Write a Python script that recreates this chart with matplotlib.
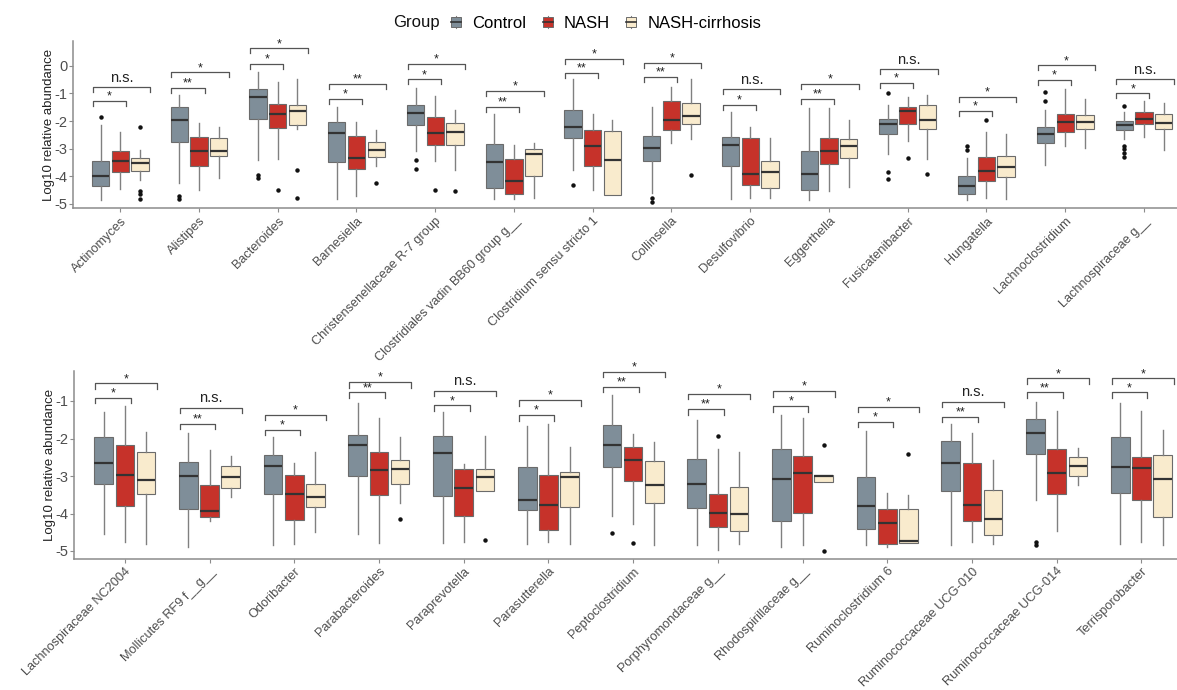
import matplotlib
matplotlib.use("Agg")
import matplotlib.pyplot as plt
from matplotlib.legend_handler import HandlerBase
from matplotlib.patches import Rectangle, Patch
from matplotlib.lines import Line2D

plt.rcParams['font.family'] = ['Liberation Sans', 'DejaVu Sans']

groups = ["Control", "NASH", "NASH-cirrhosis"]
colors = ["#7f8e99", "#c6322a", "#f9ebcd"]

# ---- top panel ----
top_taxa = ["Actinomyces", "Alistipes", "Bacteroides", "Barnesiella",
            "Christensenellaceae R-7 group", "Clostridiales vadin BB60 group g__",
            "Clostridium sensu stricto 1", "Collinsella", "Desulfovibrio",
            "Eggerthella", "Fusicatenibacter", "Hungatella", "Lachnoclostridium",
            "Lachnospiraceae g__"]

# (whisker low, q1, median, q3, whisker high)
top_control = [(-4.87, -4.36, -4.0, -3.46, -2.14), (-4.24, -2.76, -1.96, -1.5, -1.06),
               (-3.4, -1.91, -1.14, -0.85, -0.22), (-4.84, -3.49, -2.42, -2.03, -1.48),
               (-3.08, -2.14, -1.72, -1.42, -0.79), (-4.84, -4.44, -3.5, -2.84, -1.75),
               (-3.76, -2.63, -2.2, -1.6, -0.49), (-4.62, -3.43, -2.96, -2.54, -1.5),
               (-4.84, -3.62, -2.86, -2.56, -1.69), (-4.87, -4.51, -3.93, -3.08, -1.51),
               (-3.19, -2.48, -2.12, -1.91, -1.42), (-4.87, -4.63, -4.36, -4.0, -3.34),
               (-3.58, -2.78, -2.48, -2.22, -1.6), (-2.66, -2.34, -2.15, -2.0, -1.66)]
top_nash = [(-4.45, -3.85, -3.43, -3.1, -2.38), (-4.48, -3.62, -3.09, -2.58, -2.06),
            (-3.38, -2.25, -1.74, -1.38, -0.58), (-4.72, -3.73, -3.34, -2.54, -2.02),
            (-3.43, -2.86, -2.42, -1.86, -1.09), (-4.84, -4.66, -4.16, -3.38, -2.86),
            (-4.51, -3.62, -2.92, -2.34, -1.74), (-2.8, -2.32, -1.98, -1.27, -0.78),
            (-4.78, -4.3, -3.93, -2.62, -2.2), (-4.54, -3.56, -3.1, -2.6, -1.54),
            (-2.74, -2.12, -1.62, -1.48, -1.14), (-4.78, -4.18, -3.82, -3.31, -2.4),
            (-2.92, -2.39, -2.02, -1.74, -0.85), (-2.56, -2.1, -1.91, -1.69, -1.26)]
top_cirr = [(-4.15, -3.82, -3.52, -3.34, -3.04), (-4.06, -3.26, -3.08, -2.61, -2.2),
            (-2.3, -2.15, -1.62, -1.42, -0.48), (-3.64, -3.3, -3.05, -2.75, -2.34),
            (-3.76, -2.86, -2.38, -2.06, -1.6), (-4.8, -4.0, -3.2, -3.0, -2.8),
            (-4.68, -4.68, -3.4, -2.36, -1.98), (-2.66, -2.1, -1.81, -1.33, -0.46),
            (-4.8, -4.42, -3.86, -3.43, -2.6), (-4.39, -3.35, -2.92, -2.64, -1.96),
            (-3.37, -2.3, -1.96, -1.43, -1.06), (-4.81, -4.03, -3.68, -3.28, -2.46),
            (-2.96, -2.3, -2.03, -1.79, -1.21), (-3.04, -2.3, -2.08, -1.74, -1.36)]
top_control_out = [[-1.84], [-4.72, -4.82], [-3.97, -4.05], [], [-3.4, -3.74], [], [-4.33],
                   [-4.8, -4.92], [], [], [-1.0, -3.85, -4.1], [-2.9, -3.06], [-0.96, -1.26],
                   [-1.44, -2.9, -3.02, -3.16, -3.31]]
top_nash_out = [[], [], [-4.48], [], [-4.48], [], [], [], [], [], [-3.34], [-1.96], [], []]
top_cirr_out = [[-2.22, -4.54, -4.63, -4.82], [], [-3.79, -4.8], [-4.24], [-4.55], [], [],
                [-3.97], [], [], [-3.91], [], [], []]
# bracket heights (Control vs NASH, Control vs NASH-cirrhosis) and labels
top_sig_y = [(-1.27, -0.76), (-0.79, -0.24), (0.08, 0.63), (-1.2, -0.66), (-0.49, 0.06),
             (-1.48, -0.91), (-0.25, 0.26), (-0.4, 0.1), (-1.42, -0.85), (-1.19, -0.64),
             (-0.61, -0.1), (-1.62, -1.12), (-0.52, 0.02), (-1.0, -0.49)]
top_sig_lab = [("*", "n.s."), ("**", "*"), ("*", "*"), ("*", "**"), ("*", "*"), ("**", "*"),
               ("**", "*"), ("**", "*"), ("*", "n.s."), ("**", "*"), ("*", "n.s."),
               ("*", "*"), ("*", "*"), ("*", "n.s.")]

# ---- bottom panel ----
bot_taxa = ["Lachnospiraceae NC2004", "Mollicutes RF9 f__g__", "Odoribacter",
            "Parabacteroides", "Paraprevotella", "Parasutterella", "Peptoclostridium",
            "Porphyromondaceae g__", "Rhodospirillaceae g__", "Ruminoclostridium 6",
            "Ruminococcaceae UCG-010", "Ruminococcaceae UCG-014", "Terrisporobacter"]

bot_control = [(-4.54, -3.2, -2.65, -1.97, -1.3), (-4.88, -3.87, -3.0, -2.63, -1.84),
               (-4.85, -3.49, -2.74, -2.43, -1.97), (-4.54, -3.0, -2.16, -1.91, -1.06),
               (-4.79, -3.53, -2.38, -1.94, -1.29), (-4.8, -3.91, -3.63, -2.76, -1.67),
               (-4.07, -2.77, -2.18, -1.64, -0.84), (-4.85, -3.85, -3.2, -2.55, -1.51),
               (-4.88, -4.21, -3.09, -2.27, -1.37), (-4.85, -4.4, -3.81, -3.02, -1.79),
               (-4.85, -3.41, -2.65, -2.06, -1.62), (-3.63, -2.4, -1.85, -1.49, -1.02),
               (-4.8, -3.45, -2.76, -1.95, -1.04)]
bot_nash = [(-4.76, -3.81, -2.98, -2.18, -1.13), (-4.2, -4.09, -3.93, -3.23, -2.31),
            (-4.8, -4.18, -3.49, -2.96, -2.65), (-4.79, -3.51, -2.84, -2.37, -1.44),
            (-4.76, -4.06, -3.33, -2.82, -2.69), (-4.76, -4.45, -3.78, -2.96, -1.6),
            (-4.29, -3.14, -2.56, -2.22, -1.88), (-4.96, -4.36, -3.98, -3.49, -2.28),
            (-4.85, -3.98, -2.92, -2.47, -1.46), (-4.89, -4.8, -4.24, -3.89, -3.44),
            (-4.76, -4.21, -3.76, -2.65, -1.85), (-4.47, -3.49, -2.93, -2.27, -1.27),
            (-4.76, -3.65, -2.79, -2.49, -1.26)]
bot_cirr = [(-4.82, -3.49, -3.11, -2.37, -1.82), (-3.57, -3.31, -3.02, -2.74, -2.47),
            (-4.49, -3.82, -3.57, -3.22, -2.35), (-3.73, -3.2, -2.81, -2.58, -1.97),
            (-3.41, -3.41, -3.03, -2.8, -1.94), (-4.8, -3.82, -3.03, -2.89, -2.22),
            (-4.83, -3.72, -3.23, -2.59, -2.1), (-4.8, -4.47, -4.02, -3.29, -2.35),
            (-3.16, -3.16, -3.0, -2.96, -2.96), (-4.79, -4.79, -4.74, -3.89, -3.51),
            (-4.82, -4.56, -4.15, -3.38, -2.56), (-3.25, -3.0, -2.72, -2.49, -2.24),
            (-4.83, -4.09, -3.08, -2.44, -1.76)]
bot_control_out = [[], [], [], [], [], [], [-4.52], [], [], [], [], [-4.76, -4.83], []]
bot_nash_out = [[], [], [], [], [], [], [-4.79], [-1.94], [], [], [], [], []]
bot_cirr_out = [[], [], [], [-4.14], [-4.7], [], [], [], [-2.16, -5.01], [-2.42], [], [], []]
bot_sig_y = [(-0.91, -0.53), (-1.6, -1.18), (-1.76, -1.36), (-0.77, -0.49), (-1.11, -0.72),
             (-1.37, -0.97), (-0.62, -0.22), (-1.21, -0.8), (-1.13, -0.73), (-1.55, -1.15),
             (-1.42, -1.02), (-0.77, -0.39), (-0.77, -0.39)]
bot_sig_lab = [("*", "*"), ("**", "n.s."), ("*", "*"), ("**", "*"), ("*", "n.s."), ("*", "*"),
               ("**", "*"), ("**", "*"), ("*", "*"), ("*", "*"), ("**", "n.s."),
               ("**", "*"), ("*", "*")]

GREY = "#4d4d4d"
AXC = "#8c8c8c"


def make_stats(vals, outs):
    st = []
    for (lo, q1, med, q3, hi), fl in zip(vals, outs):
        st.append(dict(whislo=lo, q1=q1, med=med, q3=q3, whishi=hi, fliers=fl))
    return st


def draw_panel(ax, taxa, series, outs, sig_y, sig_lab, ylim, yticks):
    n = len(taxa)
    offsets = [-0.25, 0.0, 0.25]
    for k in range(3):
        pos = [i + offsets[k] for i in range(n)]
        ax.bxp(make_stats(series[k], outs[k]), positions=pos, widths=0.22,
               patch_artist=True, showcaps=False, manage_ticks=False,
               boxprops=dict(facecolor=colors[k], edgecolor="#6b6b6b", linewidth=0.8),
               medianprops=dict(color="#333333", linewidth=1.6),
               whiskerprops=dict(color="#808080", linewidth=1.0),
               flierprops=dict(marker="o", markersize=2.2, markerfacecolor="#111111",
                               markeredgecolor="#111111"))
    # significance brackets
    span = ylim[1] - ylim[0]
    tick = 0.03 * span
    for i in range(n):
        x0 = i - 0.35
        for j, x1 in enumerate([i + 0.07, i + 0.38]):
            y = sig_y[i][j]
            ax.plot([x0, x0, x1, x1], [y - tick, y, y, y - tick], color="#555555", lw=0.9)
            lab = sig_lab[i][j]
            if lab == "n.s.":
                ax.text((x0 + x1) / 2, y + 0.012 * span, lab, ha="center", va="bottom",
                        fontsize=10.5, color="#222222")
            else:
                ax.text((x0 + x1) / 2, y - 0.01 * span, lab, ha="center", va="bottom",
                        fontsize=9, color="#222222")
    ax.set_xlim(-0.6, n - 1 + 0.42)
    ax.set_ylim(*ylim)
    ax.set_yticks(yticks)
    ax.set_yticklabels([str(t) for t in yticks])
    ax.set_xticks(range(n))
    ax.set_xticklabels(taxa, rotation=45, ha="right", rotation_mode="anchor")
    for s in ["top", "right"]:
        ax.spines[s].set_visible(False)
    for s in ["left", "bottom"]:
        ax.spines[s].set_color(AXC)
        ax.spines[s].set_linewidth(1.1)
    ax.tick_params(axis="both", colors=AXC, length=3, width=0.8)
    ax.tick_params(axis="x", labelsize=9.2, labelcolor=GREY, pad=2)
    ax.tick_params(axis="y", labelsize=10.5, labelcolor=GREY, pad=1)
    ax.set_ylabel("Log10 relative abundance", fontsize=9.5, color="#222222")
    ax.yaxis.set_label_coords(-0.016, 0.5)


class BoxHandler(HandlerBase):
    def create_artists(self, legend, orig_handle, xdescent, ydescent, width, height,
                       fontsize, trans):
        cx = width / 2 - xdescent
        w = width * 0.8
        h = height * 0.8
        y0 = -ydescent + (height - h) / 2
        line = Line2D([cx, cx], [-ydescent, -ydescent + height], color="#808080", lw=0.8,
                      transform=trans)
        rect = Rectangle((cx - w / 2, y0), w, h, facecolor=orig_handle.get_facecolor(),
                         edgecolor="#6b6b6b", lw=0.7, transform=trans)
        med = Line2D([cx - w / 2, cx + w / 2], [y0 + h / 2] * 2, color="#333333", lw=1.2,
                     transform=trans)
        return [line, rect, med]


fig = plt.figure(figsize=(11.77, 6.90), dpi=100)
ax1 = fig.add_axes([73 / 1177, 1 - 208 / 690, 1 - 73 / 1177, (208 - 41) / 690])
ax2 = fig.add_axes([74 / 1177, 1 - 558.5 / 690, 1 - 74 / 1177, (558.5 - 371) / 690])

draw_panel(ax1, top_taxa, [top_control, top_nash, top_cirr],
           [top_control_out, top_nash_out, top_cirr_out], top_sig_y, top_sig_lab,
           (-5.15, 0.9), [0, -1, -2, -3, -4, -5])
draw_panel(ax2, bot_taxa, [bot_control, bot_nash, bot_cirr],
           [bot_control_out, bot_nash_out, bot_cirr_out], bot_sig_y, bot_sig_lab,
           (-5.2, -0.2), [-1, -2, -3, -4, -5])

fig.text(393 / 1177, 1 - 23 / 690, "Group", fontsize=12, va="center", ha="left",
         color="#111111")
handles = [Patch(facecolor=c) for c in colors]
leg = fig.legend(handles, groups, loc="center left", bbox_to_anchor=(450 / 1177, 1 - 23 / 690),
                 ncol=3, frameon=False, fontsize=12, handlelength=0.75, handleheight=0.75,
                 handletextpad=0.6, columnspacing=0.9, borderaxespad=0, borderpad=0,
                 handler_map={Patch: BoxHandler()})

fig.savefig("out.png", dpi=100)
